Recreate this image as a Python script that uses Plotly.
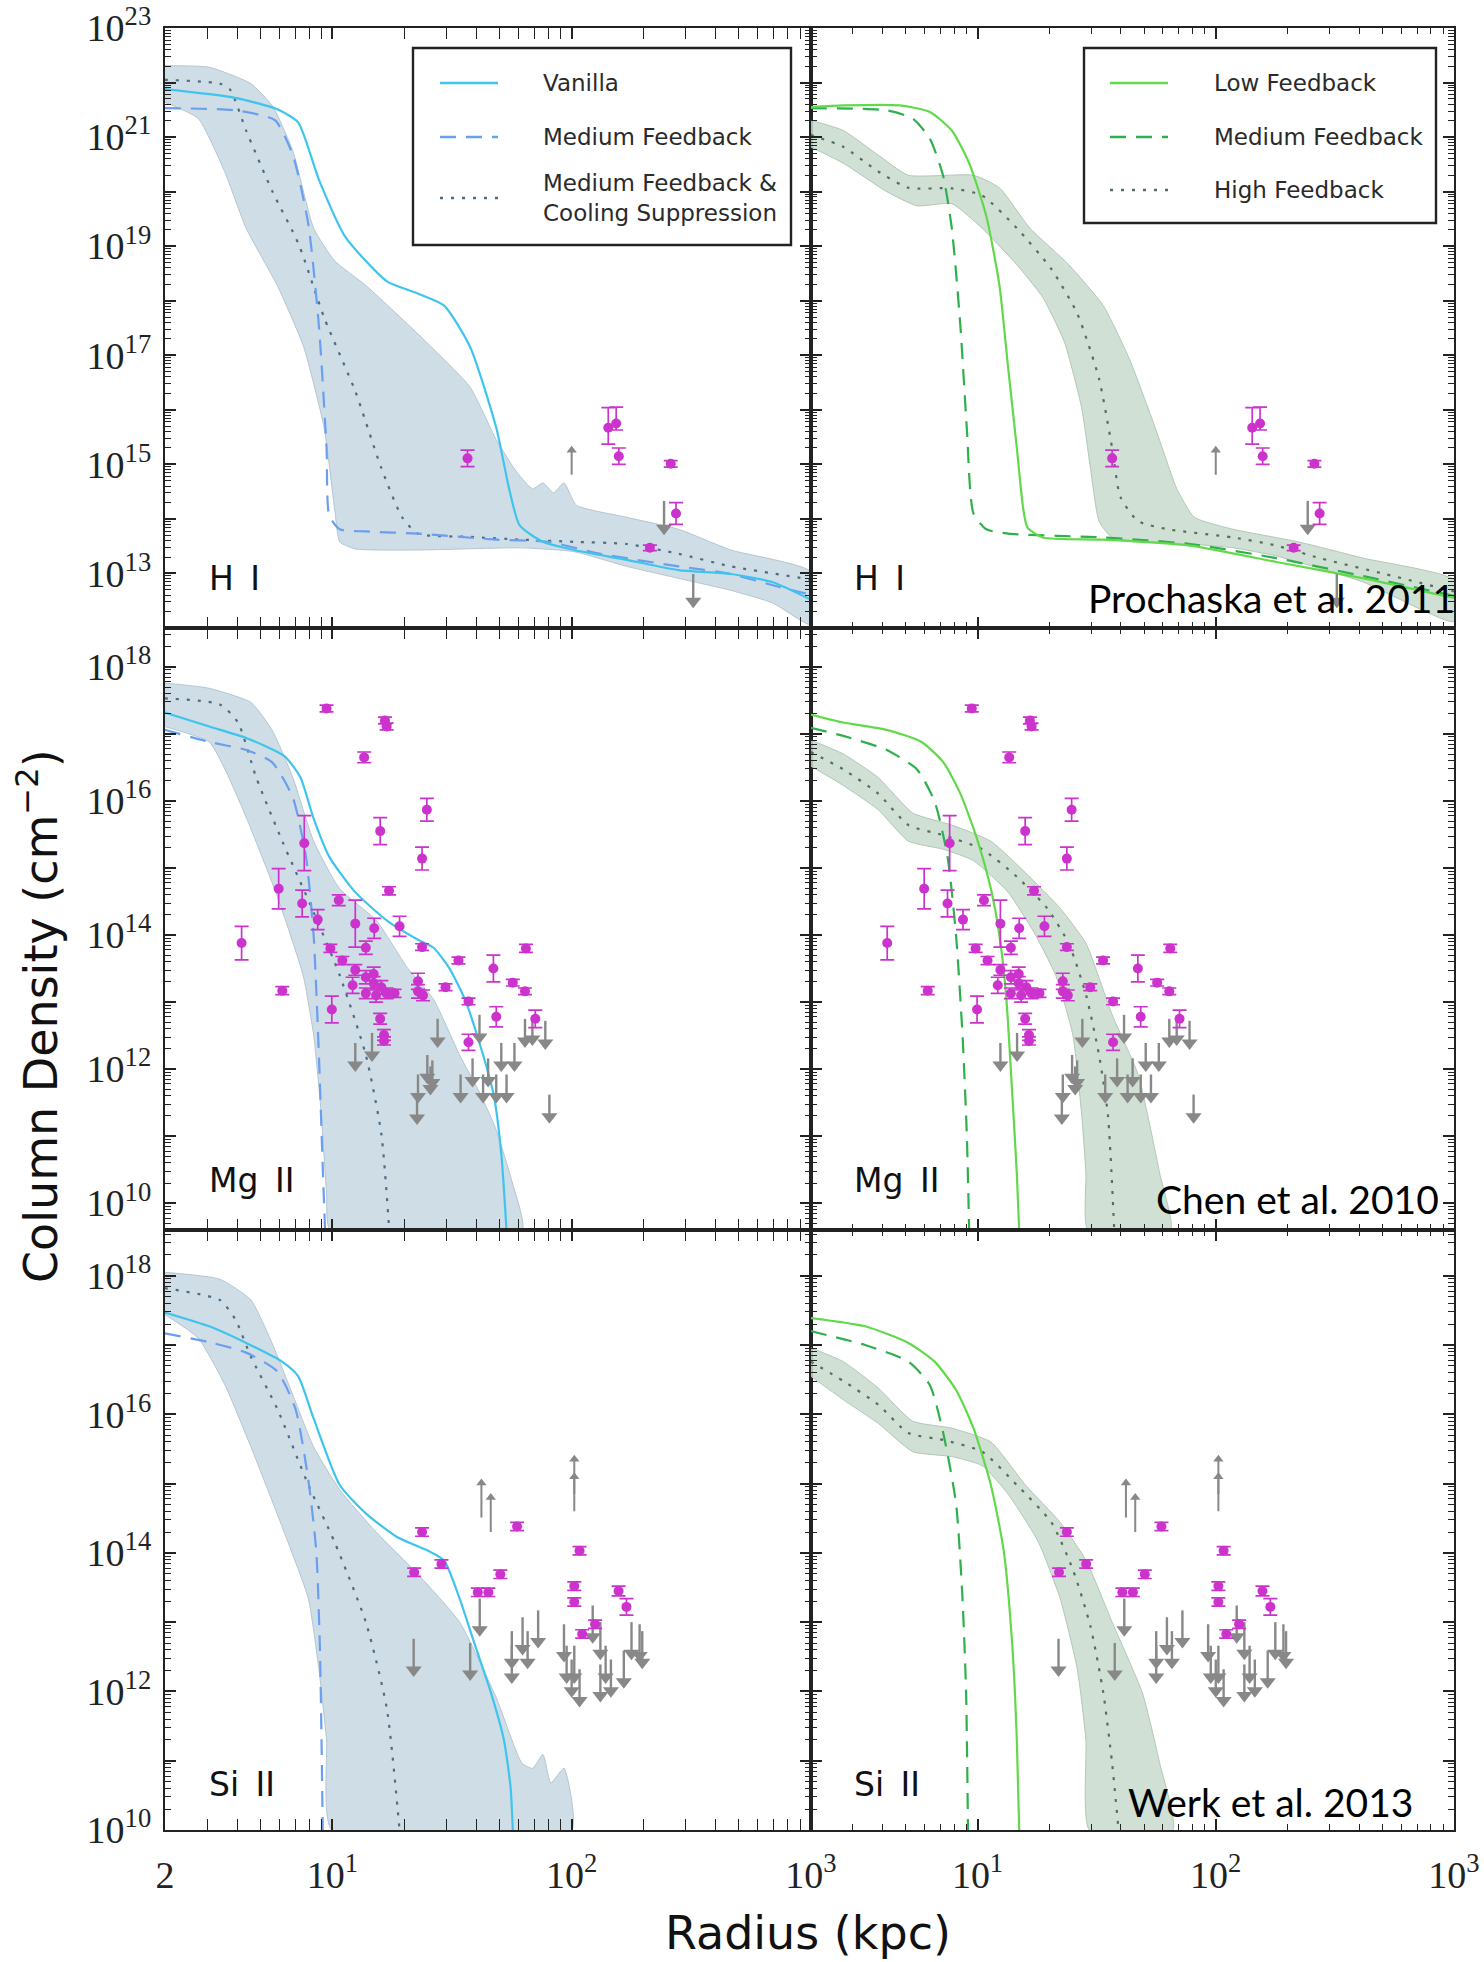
import numpy as np
import plotly.graph_objects as go

# ---------------------------------------------------------------------------
# Radial column-density profiles (log10 radius in kpc, log10 N in cm^-2)
# ---------------------------------------------------------------------------

# H I, left column
HI_VAN_LR = [0.30, 0.595, 0.77, 0.857, 0.944, 1.053, 1.227, 1.358, 1.467, 1.575, 1.685, 1.739, 1.783, 1.88, 2.01, 2.23, 2.447, 2.665, 2.84, 3.0]
HI_VAN_LN = [21.88, 21.72, 21.51, 21.27, 20.22, 19.18, 18.36, 18.13, 17.91, 17.16, 15.67, 14.55, 13.88, 13.58, 13.43, 13.25, 13.06, 12.99, 12.84, 12.52]
HI_MED_LR = [0.30, 0.595, 0.76, 0.835, 0.90, 0.944, 0.976, 0.987, 1.031, 1.14, 1.358, 1.685, 1.90, 2.12, 2.447, 2.665, 2.86, 3.0]
HI_MED_LN = [21.53, 21.49, 21.31, 20.67, 19.40, 17.54, 15.30, 14.07, 13.81, 13.77, 13.73, 13.62, 13.58, 13.36, 13.13, 12.99, 12.76, 12.61]
HI_COOL_LR = [0.30, 0.53, 0.573, 0.64, 0.75, 0.86, 0.966, 1.096, 1.205, 1.292, 1.358, 1.575, 1.79, 2.01, 2.23, 2.447, 2.665, 3.0]
HI_COOL_LN = [22.05, 21.98, 21.87, 21.12, 20.0, 19.03, 17.69, 16.34, 14.93, 14.03, 13.73, 13.67, 13.62, 13.58, 13.54, 13.36, 13.13, 12.89]
HI_COOL_UP_LR = [0.30, 0.486, 0.66, 0.75, 0.835, 0.922, 1.01, 1.14, 1.358, 1.575, 1.685, 1.772, 1.837, 1.88, 1.924, 1.968, 2.02, 2.23, 2.447, 2.665, 3.0]
HI_COOL_UP_LN = [22.31, 22.28, 21.98, 21.57, 20.75, 19.33, 18.73, 18.28, 17.39, 16.42, 15.45, 14.85, 14.55, 14.66, 14.48, 14.66, 14.25, 14.03, 13.81, 13.43, 13.03]
HI_COOL_DN_LR = [0.30, 0.44, 0.55, 0.64, 0.77, 0.88, 0.966, 1.01, 1.031, 1.096, 1.358, 1.79, 2.01, 2.23, 2.447, 2.665, 2.84, 3.0]
HI_COOL_DN_LN = [21.64, 21.34, 20.37, 19.33, 18.28, 17.16, 15.67, 14.18, 13.58, 13.45, 13.43, 13.47, 13.40, 13.13, 12.91, 12.69, 12.46, 12.06]

# H I, right column
HI_LOW_LR = [0.30, 0.437, 0.674, 0.80, 0.892, 0.965, 1.037, 1.092, 1.128, 1.165, 1.192, 1.21, 1.274, 1.528, 1.892, 2.255, 2.62, 3.0]
HI_LOW_LN = [21.55, 21.58, 21.58, 21.46, 21.12, 20.52, 19.55, 18.28, 16.79, 15.30, 14.18, 13.84, 13.66, 13.62, 13.51, 13.21, 12.91, 12.55]
HI_MEDG_LR = [0.30, 0.619, 0.728, 0.80, 0.855, 0.892, 0.928, 0.955, 0.983, 1.037, 1.128, 1.528, 1.892, 2.255, 2.62, 3.0]
HI_MEDG_LN = [21.53, 21.49, 21.34, 20.97, 20.30, 19.33, 17.54, 15.67, 14.10, 13.81, 13.73, 13.66, 13.54, 13.28, 12.95, 12.59]
HI_HIGH_LR = [0.30, 0.437, 0.583, 0.71, 0.892, 1.019, 1.165, 1.31, 1.419, 1.51, 1.565, 1.60, 1.674, 1.80, 2.073, 2.255, 2.437, 2.71, 3.0]
HI_HIGH_LN = [21.04, 20.82, 20.37, 20.07, 20.06, 19.93, 19.33, 18.58, 17.76, 16.57, 15.30, 14.40, 13.96, 13.81, 13.66, 13.51, 13.28, 12.99, 12.67]
HI_HIGH_UP_LR = [0.30, 0.437, 0.583, 0.71, 0.983, 1.092, 1.22, 1.383, 1.528, 1.637, 1.746, 1.837, 1.91, 2.073, 2.346, 2.62, 3.0]
HI_HIGH_UP_LN = [21.31, 21.12, 20.67, 20.30, 20.30, 20.07, 19.33, 18.66, 17.91, 16.94, 15.67, 14.55, 14.03, 13.81, 13.58, 13.28, 12.88]
HI_HIGH_DN_LR = [0.30, 0.437, 0.619, 0.746, 0.892, 1.019, 1.165, 1.274, 1.365, 1.437, 1.474, 1.51, 1.565, 1.892, 2.073, 2.255, 2.62, 3.0]
HI_HIGH_DN_LN = [20.82, 20.52, 20.0, 19.74, 19.78, 19.33, 18.66, 18.06, 17.24, 16.04, 14.93, 13.96, 13.66, 13.54, 13.47, 13.32, 12.84, 12.12]

# Mg II, left column
MG_VAN_LR = [0.30, 0.486, 0.64, 0.80, 0.867, 0.92, 0.987, 1.096, 1.227, 1.358, 1.423, 1.488, 1.554, 1.62, 1.674, 1.706, 1.728]
MG_VAN_LN = [17.32, 17.11, 16.94, 16.67, 16.35, 15.76, 15.17, 14.64, 14.22, 13.93, 13.81, 13.51, 13.04, 12.33, 11.62, 10.74, 9.59]
MG_MED_LR = [0.30, 0.486, 0.64, 0.748, 0.835, 0.89, 0.922, 0.944, 0.961, 0.97]
MG_MED_LN = [17.06, 16.88, 16.76, 16.58, 16.05, 15.17, 13.99, 12.21, 10.44, 9.59]
MG_COOL_LR = [0.30, 0.53, 0.606, 0.682, 0.791, 0.922, 1.031, 1.14, 1.205, 1.238]
MG_COOL_LN = [17.53, 17.44, 17.17, 16.35, 15.40, 14.34, 13.40, 12.21, 11.03, 9.59]
MG_COOL_UP_LR = [0.30, 0.486, 0.66, 0.748, 0.835, 0.922, 1.031, 1.183, 1.314, 1.423, 1.532, 1.62, 1.685, 1.75, 1.793]
MG_COOL_UP_LN = [17.76, 17.68, 17.47, 17.06, 16.35, 15.40, 14.69, 14.22, 13.51, 13.04, 12.21, 11.62, 11.09, 10.33, 9.59]
MG_COOL_DN_LR = [0.30, 0.486, 0.552, 0.64, 0.77, 0.878, 0.922, 0.954, 0.976, 0.992]
MG_COOL_DN_LN = [17.11, 16.88, 16.47, 15.76, 14.58, 13.40, 12.51, 11.33, 10.15, 9.59]

# Mg II, right column
MG_LOW_LR = [0.30, 0.437, 0.619, 0.765, 0.856, 0.928, 1.001, 1.056, 1.092, 1.12, 1.146, 1.165, 1.175]
MG_LOW_LN = [17.29, 17.17, 17.06, 16.88, 16.58, 16.11, 15.40, 14.69, 13.99, 13.10, 11.62, 10.44, 9.59]
MG_MEDG_LR = [0.30, 0.437, 0.619, 0.746, 0.82, 0.874, 0.91, 0.937, 0.955, 0.965]
MG_MEDG_LN = [17.09, 16.97, 16.76, 16.47, 15.99, 15.17, 13.99, 12.51, 11.03, 9.59]
MG_HIGH_LR = [0.30, 0.437, 0.583, 0.71, 0.856, 1.019, 1.165, 1.292, 1.383, 1.456, 1.51, 1.547, 1.574]
MG_HIGH_LN = [16.73, 16.47, 16.11, 15.64, 15.49, 15.28, 14.87, 14.40, 13.87, 13.10, 12.21, 11.33, 9.59]
MG_HIGH_UP_LR = [0.30, 0.437, 0.583, 0.728, 0.892, 1.056, 1.201, 1.347, 1.456, 1.565, 1.674, 1.765, 1.81]
MG_HIGH_UP_LN = [16.91, 16.70, 16.35, 15.82, 15.64, 15.40, 14.93, 14.40, 13.87, 12.81, 11.92, 10.44, 9.59]
MG_HIGH_DN_LR = [0.30, 0.437, 0.583, 0.71, 0.856, 0.983, 1.128, 1.237, 1.328, 1.40, 1.437, 1.455, 1.464]
MG_HIGH_DN_LN = [16.52, 16.23, 15.87, 15.40, 15.28, 15.11, 14.64, 14.04, 13.40, 12.51, 11.33, 10.44, 9.59]

# Si II, left column
SI_VAN_LR = [0.30, 0.486, 0.64, 0.79, 0.857, 0.922, 1.031, 1.14, 1.27, 1.401, 1.467, 1.532, 1.597, 1.663, 1.717, 1.745, 1.754]
SI_VAN_LN = [17.47, 17.27, 17.03, 16.76, 16.55, 15.94, 14.98, 14.57, 14.23, 14.03, 13.89, 13.34, 12.66, 11.98, 11.30, 10.61, 10.0]
SI_MED_LR = [0.30, 0.486, 0.64, 0.77, 0.846, 0.90, 0.933, 0.948, 0.955, 0.96]
SI_MED_LN = [17.17, 17.04, 16.89, 16.62, 16.08, 15.05, 14.03, 12.66, 11.30, 10.0]
SI_COOL_LR = [0.30, 0.53, 0.595, 0.66, 0.77, 0.90, 1.009, 1.14, 1.227, 1.281]
SI_COOL_LN = [17.82, 17.65, 17.37, 16.83, 16.08, 14.98, 14.16, 13.0, 11.77, 10.0]
SI_COOL_UP_LR = [0.30, 0.53, 0.66, 0.748, 0.835, 0.922, 1.031, 1.183, 1.358, 1.532, 1.685, 1.793, 1.837, 1.88, 1.913, 1.968, 2.0]
SI_COOL_UP_LN = [18.05, 17.95, 17.65, 17.03, 16.28, 15.53, 14.91, 14.30, 13.69, 13.0, 11.91, 10.96, 10.89, 11.09, 10.68, 10.89, 10.0]
SI_COOL_DN_LR = [0.30, 0.44, 0.552, 0.66, 0.791, 0.90, 0.944, 0.976, 0.998]
SI_COOL_DN_LN = [17.44, 17.1, 16.42, 15.53, 14.37, 13.34, 12.32, 11.30, 10.0]

# Si II, right column
SI_LOW_LR = [0.30, 0.528, 0.71, 0.82, 0.91, 0.983, 1.056, 1.11, 1.146, 1.165, 1.175]
SI_LOW_LN = [17.39, 17.27, 17.03, 16.76, 16.35, 15.80, 14.98, 14.03, 12.66, 11.30, 10.0]
SI_MEDG_LR = [0.30, 0.528, 0.71, 0.80, 0.856, 0.91, 0.937, 0.952, 0.96]
SI_MEDG_LN = [17.2, 17.0, 16.76, 16.42, 15.73, 14.71, 13.34, 11.98, 10.0]
SI_HIGH_LR = [0.30, 0.437, 0.583, 0.71, 0.856, 1.019, 1.165, 1.31, 1.401, 1.474, 1.528, 1.565, 1.592]
SI_HIGH_LN = [16.76, 16.48, 16.14, 15.73, 15.63, 15.46, 14.98, 14.44, 13.75, 12.94, 11.98, 10.96, 10.0]
SI_HIGH_UP_LR = [0.30, 0.437, 0.583, 0.728, 0.892, 1.056, 1.201, 1.347, 1.456, 1.565, 1.692, 1.765, 1.82]
SI_HIGH_UP_LN = [16.96, 16.76, 16.38, 15.90, 15.80, 15.60, 14.98, 14.44, 13.89, 13.0, 11.98, 10.96, 10.0]
SI_HIGH_DN_LR = [0.30, 0.437, 0.583, 0.728, 0.892, 1.019, 1.128, 1.255, 1.347, 1.419, 1.455, 1.47]
SI_HIGH_DN_LN = [16.55, 16.21, 15.87, 15.46, 15.39, 15.26, 14.85, 14.16, 13.34, 12.32, 11.30, 10.0]

# ---------------------------------------------------------------------------
# Observations (log10 radius, log10 N, log errors) and limits
# ---------------------------------------------------------------------------
HI_OBS_LR = [1.565, 2.153, 2.186, 2.197, 2.414, 2.436, 2.327]
HI_OBS_LN = [15.11, 15.67, 15.75, 15.15, 15.01, 14.10, 13.47]
HI_OBS_ELO = [0.15, 0.30, 0.12, 0.15, 0.06, 0.20, 0.05]
HI_OBS_EHI = [0.15, 0.37, 0.30, 0.15, 0.06, 0.20, 0.05]
HI_UPLIM_LR = [2.386, 2.508]
HI_UPLIM_LN = [14.33, 12.99]
HI_LOLIM_LR = [2.0]
HI_LOLIM_LN = [14.81]

MG_OBS_LR = [0.976, 1.22, 1.227, 1.133, 1.395, 1.20, 1.375, 0.883, 0.776, 0.874, 1.027, 1.237, 0.939, 1.096,
             1.175, 1.281, 0.621, 0.992, 1.14, 1.375, 1.042, 1.527, 1.096, 1.14, 1.173, 1.085, 1.205, 1.358,
             1.473, 1.673, 1.754, 1.809, 1.805, 0.791, 1.14, 1.183, 1.227, 1.26, 1.358, 1.379, 0.998, 1.569,
             1.685, 1.848, 1.20, 1.216, 1.216, 1.569, 1.173]
MG_OBS_LN = [17.38, 17.20, 17.11, 16.65, 15.87, 15.55, 15.14, 15.37, 14.69, 14.47, 14.52, 14.66, 14.23, 14.17,
             14.10, 14.13, 13.88, 13.80, 13.81, 13.82, 13.62, 13.62, 13.48, 13.37, 13.42, 13.25, 13.22, 13.31,
             13.22, 13.50, 13.29, 13.80, 13.16, 13.17, 13.13, 13.10, 13.13, 13.13, 13.16, 13.10, 12.89, 13.01,
             12.78, 12.75, 12.75, 12.51, 12.42, 12.40, 13.28]
MG_OBS_ERR = [0.05, 0.05, 0.05, 0.08, 0.17, 0.20, 0.17, 0.41, 0.30, 0.20, 0.08, 0.06, 0.15, 0.35,
              0.15, 0.15, 0.25, 0.06, 0.10, 0.05, 0.06, 0.05, 0.08, 0.10, 0.10, 0.12, 0.10, 0.12,
              0.05, 0.20, 0.05, 0.06, 0.05, 0.06, 0.08, 0.10, 0.08, 0.06, 0.10, 0.08, 0.20, 0.05,
              0.15, 0.13, 0.08, 0.08, 0.06, 0.12, 0.10]
MG_UPLIM_LR = [1.096, 1.166, 1.44, 1.615, 1.805, 1.89, 1.836, 1.397, 1.41, 1.358, 1.354, 1.536, 1.586, 1.651,
               1.63, 1.685, 1.728, 1.706, 1.761, 1.907, 1.418]
MG_UPLIM_LN = [12.39, 12.54, 12.75, 12.81, 12.75, 12.72, 12.78, 12.21, 12.04, 11.92, 11.60, 11.92, 12.16, 12.16,
               11.92, 11.92, 11.92, 12.39, 12.39, 11.62, 12.13]

SI_OBS_LR = [1.375, 1.342, 1.456, 1.772, 1.702, 1.608, 1.652, 2.033, 2.011, 2.011, 2.196, 2.229, 2.098, 2.044]
SI_OBS_LN = [14.30, 13.72, 13.84, 14.38, 13.69, 13.43, 13.43, 14.03, 13.52, 13.29, 13.45, 13.22, 12.97, 12.83]
SI_OBS_ERR = [0.06, 0.06, 0.06, 0.06, 0.06, 0.06, 0.06, 0.06, 0.06, 0.06, 0.07, 0.12, 0.06, 0.06]
SI_UPLIM_LR = [1.34, 1.576, 1.616, 1.75, 1.795, 1.816, 1.86, 1.75, 1.968, 1.979, 2.0, 2.033, 2.088, 2.12,
               2.142, 2.12, 2.164, 2.218, 2.25, 2.284, 2.295, 2.011]
SI_UPLIM_LN = [12.76, 12.70, 13.34, 12.87, 13.07, 12.87, 13.17, 12.66, 12.97, 12.66, 12.46, 12.32, 13.24, 13.0,
               12.66, 12.39, 12.46, 12.59, 13.0, 12.97, 12.87, 12.66]
SI_LOLIM_LR = [1.623, 1.662, 2.011, 2.011]
SI_LOLIM_LN = [14.51, 14.30, 14.85, 14.60]

ION_LABELS = ["H\u2002I", "Mg\u2002II", "Si\u2002II"]
REFERENCES = ["Prochaska et al. 2011", "Chen et al. 2010", "Werk et al. 2013"]
LEFT_NAMES = ["Vanilla", "Medium Feedback", "Medium Feedback &<br>Cooling Suppression"]
RIGHT_NAMES = ["Low Feedback", "Medium Feedback", "High Feedback"]

# ---------------------------------------------------------------------------
# Styling
# ---------------------------------------------------------------------------
W, H = 1484, 1962
C_VAN = "#3fc4ee"
C_MED_B = "#6a9ff0"
C_COOL = "#4d6d84"
C_BAND_B = "rgba(196,213,224,0.82)"
C_EDGE_B = "#b4c6d2"
C_LOW = "#62d94a"
C_MED_G = "#2eb04c"
C_HIGH = "#556f5e"
C_BAND_G = "rgba(200,218,204,0.85)"
C_EDGE_G = "#b2c8b6"
MAG = "#cc33cc"
GRAY = "#888888"
AX = "#222222"
DASH = "16px,10px"
DOT = "3px,8px"

XDOM = [[165 / W, 811 / W], [811 / W, 1454 / W]]
YDOM = [[1 - 628 / H, 1 - 28 / H], [1 - 1230 / H, 1 - 628 / H], [1 - 1830 / H, 1 - 1230 / H]]
YRANGE = [[12, 23], [9.6, 18.58], [10, 18.66]]
ARROW_LEN = [0.5, 0.33, 0.45]
LOLIM_LEN = [0.45, 0.0, 0.5]


def P(a):
    return np.power(10.0, np.asarray(a, dtype=float))


fig = go.Figure()


def axes_of(row, col):
    k = row * 2 + col + 1
    s = "" if k == 1 else str(k)
    return "x" + s, "y" + s


def curve(row, col, lr, ln, color, dash=None, width=2.2):
    xa, ya = axes_of(row, col)
    fig.add_trace(go.Scatter(
        x=P(lr), y=P(ln), mode="lines", xaxis=xa, yaxis=ya,
        line=dict(color=color, width=width, dash=dash, shape="spline", smoothing=0.6),
        showlegend=False, hoverinfo="skip"))


def band(row, col, up_lr, up_ln, dn_lr, dn_ln, fill, edge):
    xa, ya = axes_of(row, col)
    xs = np.concatenate([P(up_lr), P(dn_lr)[::-1]])
    ys = np.concatenate([P(up_ln), P(dn_ln)[::-1]])
    fig.add_trace(go.Scatter(
        x=xs, y=ys, mode="lines", fill="toself", fillcolor=fill, xaxis=xa, yaxis=ya,
        line=dict(color=edge, width=1, shape="spline", smoothing=0.5),
        showlegend=False, hoverinfo="skip"))


def detections(row, col, lr, ln, elo, ehi):
    xa, ya = axes_of(row, col)
    ln = np.asarray(ln, float)
    y = P(ln)
    fig.add_trace(go.Scatter(
        x=P(lr), y=y, mode="markers", xaxis=xa, yaxis=ya,
        marker=dict(color=MAG, size=10, symbol="circle", line=dict(width=0)),
        error_y=dict(type="data", symmetric=False,
                     array=P(ln + np.asarray(ehi)) - y,
                     arrayminus=y - P(ln - np.asarray(elo)),
                     color=MAG, thickness=1.7, width=7),
        showlegend=False, hoverinfo="skip"))


def upper_limits(row, col, lr, ln):
    xa, ya = axes_of(row, col)
    ln = np.asarray(ln, float)
    L = ARROW_LEN[row]
    tip = P(ln - L)
    fig.add_trace(go.Scatter(
        x=P(lr), y=tip, mode="markers", xaxis=xa, yaxis=ya,
        marker=dict(color=GRAY, size=14, symbol="triangle-down", line=dict(width=0)),
        error_y=dict(type="data", symmetric=False, array=P(ln) - tip,
                     arrayminus=np.zeros(len(ln)), color=GRAY, thickness=2.4, width=0),
        showlegend=False, hoverinfo="skip"))


def lower_limits(row, col, lr, ln):
    xa, ya = axes_of(row, col)
    ln = np.asarray(ln, float)
    L = LOLIM_LEN[row]
    tip = P(ln + L)
    fig.add_trace(go.Scatter(
        x=P(lr), y=tip, mode="markers", xaxis=xa, yaxis=ya,
        marker=dict(color=GRAY, size=9, symbol="triangle-up", line=dict(width=0)),
        error_y=dict(type="data", symmetric=False, array=np.zeros(len(ln)),
                     arrayminus=tip - P(ln), color=GRAY, thickness=2, width=0),
        showlegend=False, hoverinfo="skip"))


# --- H I ---------------------------------------------------------------
band(0, 0, HI_COOL_UP_LR, HI_COOL_UP_LN, HI_COOL_DN_LR, HI_COOL_DN_LN, C_BAND_B, C_EDGE_B)
curve(0, 0, HI_COOL_LR, HI_COOL_LN, C_COOL, DOT)
curve(0, 0, HI_MED_LR, HI_MED_LN, C_MED_B, DASH)
curve(0, 0, HI_VAN_LR, HI_VAN_LN, C_VAN, None)
band(0, 1, HI_HIGH_UP_LR, HI_HIGH_UP_LN, HI_HIGH_DN_LR, HI_HIGH_DN_LN, C_BAND_G, C_EDGE_G)
curve(0, 1, HI_HIGH_LR, HI_HIGH_LN, C_HIGH, DOT)
curve(0, 1, HI_MEDG_LR, HI_MEDG_LN, C_MED_G, DASH)
curve(0, 1, HI_LOW_LR, HI_LOW_LN, C_LOW, None)

# --- Mg II -------------------------------------------------------------
band(1, 0, MG_COOL_UP_LR, MG_COOL_UP_LN, MG_COOL_DN_LR, MG_COOL_DN_LN, C_BAND_B, C_EDGE_B)
curve(1, 0, MG_COOL_LR, MG_COOL_LN, C_COOL, DOT)
curve(1, 0, MG_MED_LR, MG_MED_LN, C_MED_B, DASH)
curve(1, 0, MG_VAN_LR, MG_VAN_LN, C_VAN, None)
band(1, 1, MG_HIGH_UP_LR, MG_HIGH_UP_LN, MG_HIGH_DN_LR, MG_HIGH_DN_LN, C_BAND_G, C_EDGE_G)
curve(1, 1, MG_HIGH_LR, MG_HIGH_LN, C_HIGH, DOT)
curve(1, 1, MG_MEDG_LR, MG_MEDG_LN, C_MED_G, DASH)
curve(1, 1, MG_LOW_LR, MG_LOW_LN, C_LOW, None)

# --- Si II -------------------------------------------------------------
band(2, 0, SI_COOL_UP_LR, SI_COOL_UP_LN, SI_COOL_DN_LR, SI_COOL_DN_LN, C_BAND_B, C_EDGE_B)
curve(2, 0, SI_COOL_LR, SI_COOL_LN, C_COOL, DOT)
curve(2, 0, SI_MED_LR, SI_MED_LN, C_MED_B, DASH)
curve(2, 0, SI_VAN_LR, SI_VAN_LN, C_VAN, None)
band(2, 1, SI_HIGH_UP_LR, SI_HIGH_UP_LN, SI_HIGH_DN_LR, SI_HIGH_DN_LN, C_BAND_G, C_EDGE_G)
curve(2, 1, SI_HIGH_LR, SI_HIGH_LN, C_HIGH, DOT)
curve(2, 1, SI_MEDG_LR, SI_MEDG_LN, C_MED_G, DASH)
curve(2, 1, SI_LOW_LR, SI_LOW_LN, C_LOW, None)

# Observational data go on both columns of each row
for col in (0, 1):
    upper_limits(0, col, HI_UPLIM_LR, HI_UPLIM_LN)
    lower_limits(0, col, HI_LOLIM_LR, HI_LOLIM_LN)
    detections(0, col, HI_OBS_LR, HI_OBS_LN, HI_OBS_ELO, HI_OBS_EHI)

    upper_limits(1, col, MG_UPLIM_LR, MG_UPLIM_LN)
    detections(1, col, MG_OBS_LR, MG_OBS_LN, MG_OBS_ERR, MG_OBS_ERR)

    upper_limits(2, col, SI_UPLIM_LR, SI_UPLIM_LN)
    lower_limits(2, col, SI_LOLIM_LR, SI_LOLIM_LN)
    detections(2, col, SI_OBS_LR, SI_OBS_LN, SI_OBS_ERR, SI_OBS_ERR)

# ---------------------------------------------------------------------------
# Axes
# ---------------------------------------------------------------------------
TICK_FONT = dict(family="Liberation Serif, Times New Roman, serif", size=38, color="#222222")
x_minor = [m * 10 ** d for d in range(0, 3) for m in range(2, 10) if 2 < m * 10 ** d < 1000]

TICK_STYLE = dict(ticks="inside", ticklen=11, tickwidth=1.6, tickcolor=AX, automargin=False,
                  showgrid=False, zeroline=False, layer="above traces")
MINOR_STYLE = dict(ticks="inside", ticklen=6, tickwidth=1.3, tickcolor=AX, showgrid=False)

layout_axes = {}
for row in range(3):
    lo, hi = YRANGE[row]
    decades = list(range(int(np.ceil(lo)), int(np.floor(hi)) + 1))
    parity = 1 if row == 0 else 0
    labelled = [d for d in decades if d % 2 == parity]
    unlabelled = [d for d in decades if d % 2 != parity]
    y_minor = [m * 10.0 ** d for d in range(int(np.floor(lo)), int(np.ceil(hi)) + 1)
               for m in range(2, 10) if lo < np.log10(m * 10.0 ** d) < hi]
    for col in range(2):
        k = row * 2 + col + 1
        s = "" if k == 1 else str(k)
        if col == 0:
            xt = [2, 10, 100, 1000]
            xl = ["2", "10<sup>1</sup>", "10<sup>2</sup>", "10<sup>3</sup>"]
        else:
            xt = [10, 100, 1000]
            xl = ["10<sup>1</sup>", "10<sup>2</sup>", "10<sup>3</sup>"]
        frame = dict(TICK_STYLE, showline=True, linecolor=AX, linewidth=2.4, mirror="allticks",
                     tickfont=TICK_FONT)
        layout_axes["xaxis" + s] = dict(
            frame, type="log", range=[np.log10(2), 3], domain=XDOM[col], anchor="y" + s,
            tickmode="array", tickvals=xt, ticktext=xl, showticklabels=(row == 2),
            ticklabelstandoff=10, minor=dict(MINOR_STYLE, tickmode="array", tickvals=x_minor))
        if col == 0:
            # labelled decades on the main axis; the remaining decades get their
            # full-length ticks from an overlaid, label-free twin axis
            layout_axes["yaxis" + s] = dict(
                frame, type="log", range=[lo, hi], domain=YDOM[row], anchor="x" + s,
                tickmode="array", tickvals=[10.0 ** d for d in labelled],
                ticktext=["10<sup>%d</sup>" % d for d in labelled],
                showticklabels=True, ticklabelstandoff=4,
                minor=dict(MINOR_STYLE, tickmode="array", tickvals=y_minor))
            twin = "yaxis%d" % (7 + row)
            layout_axes[twin] = dict(
                TICK_STYLE, type="log", range=[lo, hi], overlaying="y" + s, anchor="x" + s,
                side="left", showline=False, mirror="allticks", showticklabels=False,
                tickmode="array", tickvals=[10.0 ** d for d in unlabelled])
        else:
            layout_axes["yaxis" + s] = dict(
                frame, type="log", range=[lo, hi], domain=YDOM[row], anchor="x" + s,
                tickmode="array", tickvals=[10.0 ** d for d in decades],
                showticklabels=False,
                minor=dict(MINOR_STYLE, tickmode="array", tickvals=y_minor))

# empty carriers so the twin axes are laid out with their subplots
for row in range(3):
    xa, _ = axes_of(row, 0)
    fig.add_trace(go.Scatter(x=[], y=[], xaxis=xa, yaxis="y%d" % (7 + row), mode="lines",
                             showlegend=False, hoverinfo="skip"))

# ---------------------------------------------------------------------------
# Text: ion labels, survey references, axis titles
# ---------------------------------------------------------------------------
def px(x, y):
    return x / W, 1 - y / H


annotations = []
ION_Y = [578, 1180, 1784]
REF_Y = [598, 1199, 1802]
REF_X = [1457, 1441, 1415]
for row in range(3):
    for xleft in (207, 852):
        x, y = px(xleft, ION_Y[row])
        annotations.append(dict(x=x, y=y, xref="paper", yref="paper", text=ION_LABELS[row],
                                showarrow=False, xanchor="left", yanchor="middle",
                                font=dict(family="DejaVu Sans", size=33, color="#111111")))
    x, y = px(REF_X[row], REF_Y[row])
    annotations.append(dict(x=x, y=y, xref="paper", yref="paper", text=REFERENCES[row],
                            showarrow=False, xanchor="right", yanchor="middle",
                            font=dict(family="Lato", size=39, color="#000000")))

x, y = px(808, 1933)
annotations.append(dict(x=x, y=y, xref="paper", yref="paper", text="Radius (kpc)",
                        showarrow=False, xanchor="center", yanchor="middle",
                        font=dict(family="DejaVu Sans", size=46, color="#111111")))
x, y = px(38, 1016)
annotations.append(dict(x=x, y=y, xref="paper", yref="paper", text="Column Density (cm<sup>−2</sup>)",
                        showarrow=False, xanchor="center", yanchor="middle", textangle=-90,
                        font=dict(family="DejaVu Sans", size=46, color="#111111")))

# ---------------------------------------------------------------------------
# Legend boxes for the two model families
# ---------------------------------------------------------------------------
shapes = []
LEG_FONT = dict(family="DejaVu Sans", size=23, color="#2a2a2a")


def legend_box(x0, y0, x1, y1, entries, sx0, sx1, tx):
    a, b = px(x0, y0)
    c, d = px(x1, y1)
    shapes.append(dict(type="rect", xref="paper", yref="paper", x0=a, y0=d, x1=c, y1=b,
                       line=dict(color=AX, width=2.4), fillcolor="white", layer="above"))
    for name, yy, color, dash in entries:
        p0, q = px(sx0, yy)
        p1, _ = px(sx1, yy)
        shapes.append(dict(type="line", xref="paper", yref="paper", x0=p0, x1=p1, y0=q, y1=q,
                           line=dict(color=color, width=2.5, dash=dash or "solid"), layer="above"))
        t, _ = px(tx, yy)
        annotations.append(dict(x=t, y=q, xref="paper", yref="paper", text=name, showarrow=False,
                                xanchor="left", yanchor="middle", align="left", font=LEG_FONT))


legend_box(413, 48, 791, 245,
           [(LEFT_NAMES[0], 83, C_VAN, None), (LEFT_NAMES[1], 137, C_MED_B, DASH),
            (LEFT_NAMES[2], 198, C_COOL, DOT)], 440, 498, 541)
legend_box(1084, 48, 1436, 223,
           [(RIGHT_NAMES[0], 83, C_LOW, None), (RIGHT_NAMES[1], 137, C_MED_G, DASH),
            (RIGHT_NAMES[2], 190, C_HIGH, DOT)], 1110, 1168, 1212)

fig.update_layout(
    width=W, height=H, margin=dict(l=0, r=0, t=0, b=0, pad=0, autoexpand=False),
    paper_bgcolor="white", plot_bgcolor="white", showlegend=False,
    annotations=annotations, shapes=shapes, **layout_axes)

fig.write_html("out.html")
